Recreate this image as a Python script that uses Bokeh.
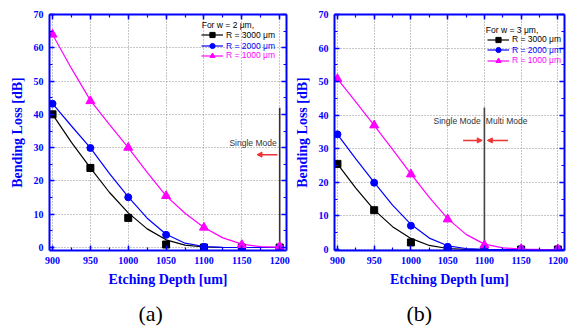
from bokeh.plotting import figure
from bokeh.layouts import row
from bokeh.models import (LinearAxis, SingleIntervalTicker, Range1d, Legend, LegendItem,
                          Arrow, NormalHead, Label, Title, CustomJSTickFormatter)
from bokeh.embed import file_html
from bokeh.resources import INLINE

# ---------------- data ----------------
depth = [900, 950, 1000, 1050, 1100, 1150, 1200]
depth_fit = [900, 925, 950, 975, 1000, 1025, 1050, 1075, 1100, 1125, 1150, 1175, 1200]
x_ticks_interval = 50
y_ticks_interval = 10

# panel (a): w = 2 um
a_r3000 = [40.0, 23.9, 8.9, 0.9, 0.0, 0.0, 0.0]
a_r2000 = [43.2, 29.9, 15.1, 3.8, 0.2, 0.1, 0.0]
a_r1000 = [64.0, 44.0, 30.0, 15.5, 6.0, 0.8, 0.3]
a_fit3000 = [40.0, 31.6, 23.9, 16.6, 10.4, 5.6, 2.3, 0.7, 0.15, 0.0, 0.0, 0.0, 0.0]
a_fit2000 = [43.2, 36.5, 29.9, 22.3, 15.2, 8.8, 4.0, 1.3, 0.3, 0.05, 0.0, 0.0, 0.0]
a_fit1000 = [64.0, 53.8, 44.2, 37.0, 30.0, 22.6, 15.5, 10.3, 6.0, 2.9, 1.0, 0.25, 0.1]

# panel (b): w = 3 um
b_r3000 = [25.5, 11.7, 2.1, 0.0, 0.0, 0.0, 0.0]
b_r2000 = [34.3, 19.9, 7.1, 0.8, 0.0, 0.0, 0.0]
b_r1000 = [50.8, 37.0, 22.4, 9.0, 1.3, 0.2, 0.1]
b_fit3000 = [25.5, 18.3, 11.8, 6.8, 3.3, 1.2, 0.3, 0.05, 0.0, 0.0, 0.0, 0.0, 0.0]
b_fit2000 = [34.3, 27.0, 20.0, 13.2, 7.5, 3.4, 1.1, 0.3, 0.05, 0.0, 0.0, 0.0, 0.0]
b_fit1000 = [50.8, 44.0, 37.0, 29.8, 22.5, 15.5, 9.2, 4.5, 1.6, 0.5, 0.15, 0.05, 0.0]

series_labels = ["R = 3000 \u03bcm", "R = 2000 \u03bcm", "R = 1000 \u03bcm"]
legend_titles = ["For w = 2 \u03bcm,", "For w = 3 \u03bcm,"]
captions = ["(a)", "(b)"]

# mode boundary annotations
a_boundary = 1200
a_boundary_top = 42.0
b_boundary = 1100
b_boundary_top = 42.3

BLUE = "#0000ff"
MAGENTA = "#ff00ff"
BLACK = "#000000"
RED = "#ee3333"
colors = [BLACK, BLUE, MAGENTA]
markers = ["square", "circle", "triangle"]
msizes = [7, 7, 9]

SERIF = "Liberation Serif"
SANS = "Liberation Sans"


def style_axis(ax, labels=True):
    ax.axis_line_color = BLUE
    ax.axis_line_width = 2
    ax.major_tick_line_color = BLUE
    ax.major_tick_line_width = 1.5
    ax.minor_tick_line_color = BLUE
    ax.minor_tick_line_width = 1.2
    ax.major_tick_in = 5
    ax.major_tick_out = 0
    ax.minor_tick_in = 3
    ax.minor_tick_out = 0
    if labels:
        ax.major_label_text_font = SERIF
        ax.major_label_text_font_style = "bold"
        ax.major_label_text_font_size = "10px"
        ax.major_label_text_color = BLUE
        ax.axis_label_text_font = SERIF
        ax.axis_label_text_font_style = "bold"
        ax.axis_label_text_font_size = "14px"
        ax.axis_label_text_color = BLUE
    else:
        ax.formatter = CustomJSTickFormatter(code="return ''")
        ax.major_label_text_font_size = "0px"
        ax.major_label_standoff = 0


def make_panel(width, bl, br, ylow, fits):
    p = figure(width=width, height=335, output_backend="svg", toolbar_location=None,
               x_range=Range1d(896, 1209), y_range=Range1d(ylow, 70),
               min_border_left=bl, min_border_right=br, min_border_top=14,
               min_border_bottom=85, outline_line_color=None)
    xt = SingleIntervalTicker(interval=x_ticks_interval, num_minor_ticks=2)
    yt = SingleIntervalTicker(interval=y_ticks_interval, num_minor_ticks=2)
    p.xaxis.ticker = xt
    p.yaxis.ticker = yt
    p.xgrid.ticker = xt
    p.ygrid.ticker = yt
    p.grid.grid_line_color = "#8f8f8f"
    p.grid.grid_line_dash = "1 2"
    p.grid.grid_line_width = 1
    p.xaxis.axis_label = "Etching Depth [um]"
    p.yaxis.axis_label = "Bending Loss [dB]"
    style_axis(p.xaxis[0])
    style_axis(p.yaxis[0])
    p.xaxis.major_label_standoff = 6
    p.xaxis.axis_label_standoff = 5
    p.yaxis.major_label_standoff = 6
    p.yaxis.axis_label_standoff = 6
    top = LinearAxis(ticker=xt)
    style_axis(top, labels=False)
    p.add_layout(top, "above")
    right = LinearAxis(ticker=yt)
    style_axis(right, labels=False)
    p.add_layout(right, "right")

    renderers = []
    for i in range(3):
        ln = p.line(depth_fit, fits[i], line_color=colors[i], line_width=1.2)
        renderers.append(ln)
    return p, renderers


def add_points(p, pts, renderers, legend_x, legend_ys):
    for i in range(3):
        sc = p.scatter(depth, pts[i], marker=markers[i], size=msizes[i],
                       fill_color=colors[i], line_color=colors[i])
        lg = Legend(items=[LegendItem(label=series_labels[i], renderers=[renderers[i], sc])],
                    location=(legend_x, legend_ys[i]), padding=0, margin=0, spacing=0,
                    border_line_color=None, background_fill_alpha=0,
                    glyph_width=22, glyph_height=13, label_height=10, label_standoff=3,
                    label_text_font=SANS, label_text_font_size="8.5px",
                    label_text_color=colors[i])
        p.add_layout(lg)


def add_text(p, text, x, y, align, color="#333333"):
    p.add_layout(Label(x=x, y=y, text=text, text_font=SANS, text_font_size="8.5px",
                       text_color=color, text_align=align, text_baseline="middle"))


def add_caption(p, text, offset):
    p.add_layout(Title(text=text, align="left", offset=offset, standoff=19,
                       text_font=SERIF, text_font_size="22px", text_font_style="normal",
                       text_color=BLACK), "below")


def red_arrow(p, xs, xe, y):
    p.add_layout(Arrow(end=NormalHead(size=5, fill_color=RED, line_color=RED, line_width=1),
                       x_start=xs, y_start=y, x_end=xe, y_end=y,
                       line_color=RED, line_width=1.5))


# ---------------- panel (a) ----------------
pa, ra = make_panel(291, 49, 5, -0.9, [a_fit3000, a_fit2000, a_fit1000])
pa.segment(x0=[a_boundary], y0=[0], x1=[a_boundary], y1=[a_boundary_top],
           line_color="#333333", line_width=1.6)
add_points(pa, [a_r3000, a_r2000, a_r1000], ra, 152, [209, 198, 188.5])
add_text(pa, legend_titles[0], 1097, 66.7, "left", BLACK)
add_text(pa, "Single Mode", 1196, 31.5, "right")
red_arrow(pa, 1197, 1170, 27.9)
add_caption(pa, captions[0], 89)

# ---------------- panel (b) ----------------
pb, rb = make_panel(283, 39, 10, -0.3, [b_fit3000, b_fit2000, b_fit1000])
pb.segment(x0=[b_boundary], y0=[0], x1=[b_boundary], y1=[b_boundary_top],
           line_color="#444444", line_width=1.6)
add_points(pb, [b_r3000, b_r2000, b_r1000], rb, 153, [204.5, 194, 183.5])
add_text(pb, legend_titles[1], 1102, 65.5, "left", BLACK)
add_text(pb, "Single Mode", 1095, 38.4, "right")
add_text(pb, "Multi Mode", 1102, 38.4, "left")
red_arrow(pb, 1071, 1097, 32.5)
red_arrow(pb, 1132, 1104, 32.5)
add_caption(pb, captions[1], 72)

layout = row(pa, pb)
open("out.html", "w").write(file_html(layout, INLINE))
